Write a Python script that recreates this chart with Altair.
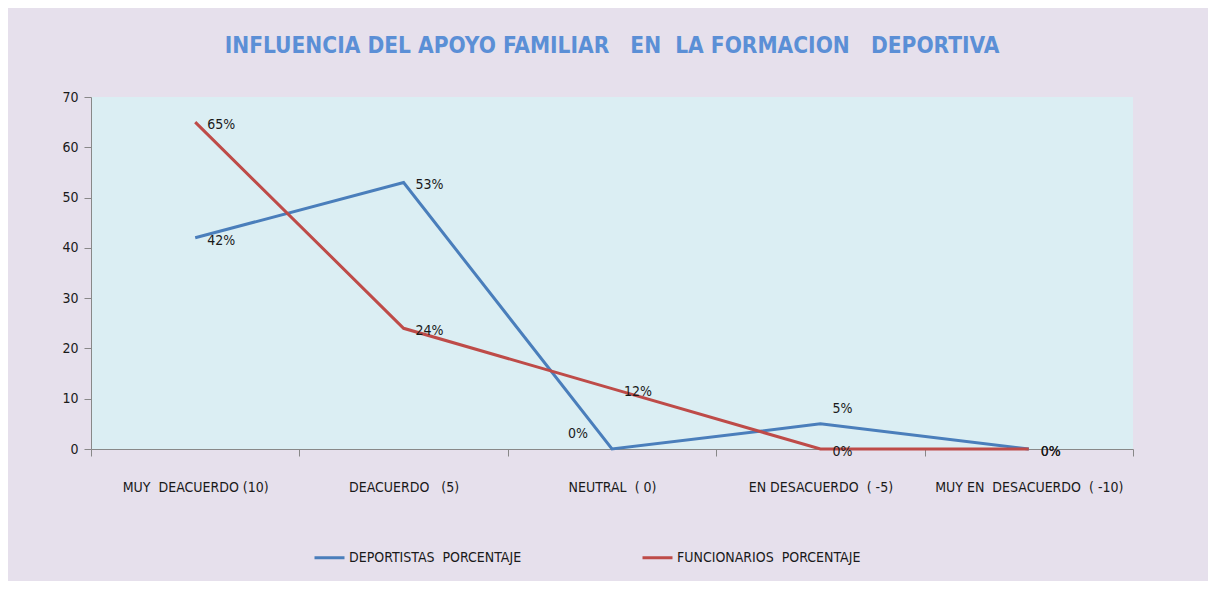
import altair as alt
import pandas as pd

NB = "\u00a0"
categories = [
    "MUY" + NB + " DEACUERDO (10)",
    "DEACUERDO" + NB + NB + " (5)",
    "NEUTRAL" + NB + " ( 0)",
    "EN DESACUERDO" + NB + " ( -5)",
    "MUY EN" + NB + " DESACUERDO" + NB + " ( -10)",
]
series_names = ["DEPORTISTAS" + NB + " PORCENTAJE", "FUNCIONARIOS" + NB + " PORCENTAJE"]
deportistas = [42, 53, 0, 5, 0]
funcionarios = [65, 24, 12, 0, 0]
colors = ["#4A7EBB", "#BE4B48"]

rows = []
for s, vals in zip(series_names, [deportistas, funcionarios]):
    for i, (c, v) in enumerate(zip(categories, vals)):
        rows.append({"cat": c, "series": s, "value": v, "label": f"{v}%", "i": i, "s": series_names.index(s)})
df = pd.DataFrame(rows)

FONT = "'DejaVu Sans Condensed', 'Liberation Sans', sans-serif"

x = alt.X(
    "cat:N", sort=categories, title=None,
    scale=alt.Scale(type="band", paddingInner=0, paddingOuter=0),
    axis=alt.Axis(tickBand="extent", tickSize=7, tickColor="#888888", domainColor="#888888",
                  labelFontSize=14, labelFont=FONT, labelColor="#1a1a1a", labelPadding=24,
                  labelAngle=0, labelLimit=300),
)
y = alt.Y(
    "value:Q", title=None,
    scale=alt.Scale(domain=[0, 70], nice=False),
    axis=alt.Axis(values=[0, 10, 20, 30, 40, 50, 60, 70], grid=False, tickSize=7,
                  tickColor="#888888", domainColor="#888888", labelFontSize=14,
                  labelFont=FONT, labelColor="#1a1a1a", labelPadding=6),
)

base = alt.Chart(df).encode(x=x, y=y)

lines = base.mark_line(strokeWidth=3).encode(
    color=alt.Color(
        "series:N", sort=series_names,
        scale=alt.Scale(domain=series_names, range=colors),
        legend=alt.Legend(title=None, orient="none", direction="horizontal",
                          legendX=222, legendY=444, symbolType="stroke",
                          symbolSize=900, symbolStrokeWidth=3, labelFont=FONT,
                          labelFontSize=14, labelColor="#1a1a1a", columnPadding=114,
                          labelOffset=3, labelLimit=400),
    ),
    order="i:Q",
)

txt_kw = dict(font=FONT, fontSize=14, color="#1a1a1a", baseline="middle")
labels_default = base.mark_text(align="left", dx=12, dy=3, **txt_kw).encode(text="label:N").transform_filter(
    "!(datum.s == 0 && (datum.i == 2 || datum.i == 3))"
)
labels_above = base.mark_text(align="left", dx=12, dy=-15, **txt_kw).encode(text="label:N").transform_filter(
    "datum.s == 0 && datum.i == 3"
)
labels_left = base.mark_text(align="right", dx=-24, dy=-15, **txt_kw).encode(text="label:N").transform_filter(
    "datum.s == 0 && datum.i == 2"
)

chart = alt.layer(lines, labels_default, labels_above, labels_left).properties(
    width=1042, height=352,
    background="#E6E0EC",
    padding={"left": 83, "top": 89, "right": 75, "bottom": 132},
    autosize=alt.AutoSizeParams(type="none"),
    title=alt.TitleParams(
        "INFLUENCIA DEL APOYO FAMILIAR" + NB + NB + "  EN" + NB + "  LA FORMACION" + NB + NB + "  DEPORTIVA",
        font=FONT, fontSize=22.5, fontWeight="bold", color="#5B8FD6", frame="group",
        anchor="middle", offset=33,
    ),
).configure_view(fill="#DBEEF3", stroke=None)

chart.save("out.html", embed_options={"renderer": "svg", "actions": False})
